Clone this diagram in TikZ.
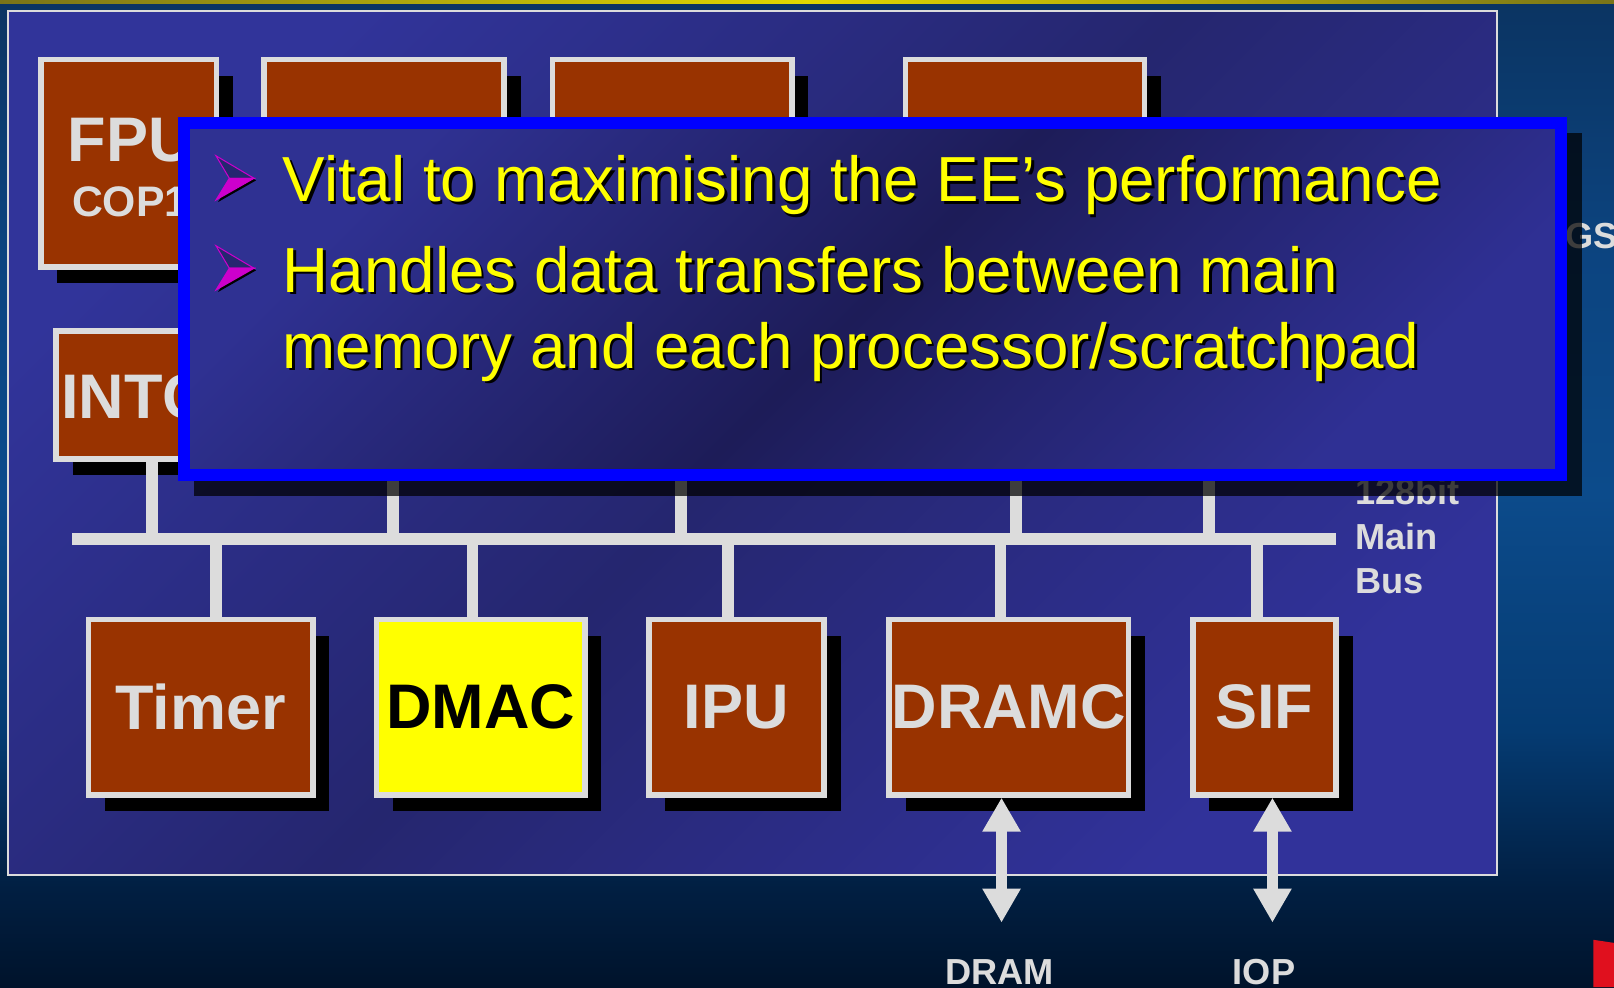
\documentclass[tikz,border=0pt]{standalone}
\usepackage{fontspec}
\setmainfont{Liberation Sans}
\usetikzlibrary{shadows,arrows.meta}

\definecolor{bgA}{HTML}{00132B}
\definecolor{bgB}{HTML}{011F42}
\definecolor{bgC}{HTML}{053B72}
\definecolor{bgD}{HTML}{0C4B8B}
\definecolor{bgE}{HTML}{0C4480}
\definecolor{bgF}{HTML}{0B3462}
\definecolor{frameTop}{HTML}{31349A}
\definecolor{frameMid}{HTML}{25266F}
\definecolor{frameBot}{HTML}{31329A}
\definecolor{popTop}{HTML}{2F3192}
\definecolor{popMid}{HTML}{1D1C58}
\definecolor{popBot}{HTML}{2F3094}
\definecolor{popBlue}{HTML}{0000FF}
\definecolor{boxFill}{HTML}{993300}
\definecolor{boxEdge}{HTML}{DCDCDC}
\definecolor{bulletPink}{HTML}{CC00CC}
\definecolor{bulletDark}{HTML}{262670}
\definecolor{cornerRed}{HTML}{E0101E}
\definecolor{topOlive}{HTML}{7A7418}
\definecolor{topYellow}{HTML}{E0D800}
\definecolor{noteYellow}{HTML}{FFFF00}

\pgfdeclareverticalshading{slideBg}{100bp}{color(0bp)=(bgA); color(25bp)=(bgA);
  color(30bp)=(bgB); color(38bp)=(bgC); color(50bp)=(bgD); color(62bp)=(bgE);
  color(75bp)=(bgF); color(100bp)=(bgF)}

\begin{document}
\begin{tikzpicture}
[x=0.01cm,y=-0.01cm,
  unitBox/.style={draw=boxEdge,line width=0.055cm,fill=boxFill,inner sep=0pt,%
    text=boxEdge,font=\fontsize{17.4}{20}\selectfont\bfseries,%
    drop shadow={shadow xshift=0.16cm,shadow yshift=-0.16cm,opacity=1,fill=black}},
  busLine/.style={draw=boxEdge,line width=0.115cm},
  ioArrow/.style={draw=boxEdge,fill=boxEdge,line width=0.1cm,%
    {Triangle[length=0.33cm,width=0.35cm]}-{Triangle[length=0.33cm,width=0.35cm]}},
  smallLabel/.style={text=boxEdge,font=\fontsize{10}{12}\selectfont\bfseries,inner sep=0pt},
  popText/.style={font=\fontsize{17.6}{21}\selectfont,inner sep=0pt,anchor=base west}]

\useasboundingbox (0,0) rectangle (1568,959);
%% slide background
\path[shading=slideBg] (0,0) rectangle (1568,959);
\shade[left color=topOlive,right color=topOlive,middle color=topYellow] (0,0) rectangle (1568,3);

%% the EE block
\node[draw=boxEdge,line width=0.02cm,minimum width=14.46cm,minimum height=8.39cm,%
  top color=frameTop,bottom color=frameBot,middle color=frameMid,shading angle=45]
  (eeFrame) at (731,430.5) {};

%% units on top (mostly hidden)
\foreach \nodename/\x/\y/\w/\h in {
  fpu/125/158.5/1.705/2.015, topB/373.3/158.5/2.331/2.015,
  topC/653/158.5/2.325/2.015, topD/995.8/158.5/2.321/2.015,
  intc/141/383.75/1.725/1.24}
{
  \node[unitBox,minimum width=\w cm,minimum height=\h cm] (\nodename) at (\x,\y) {};
}
\node[text=boxEdge,font=\fontsize{17.4}{20}\selectfont\bfseries,inner sep=0pt,anchor=base]
  (fpuName) at (127,157) {FPU};
\node[text=boxEdge,font=\fontsize{11.8}{14}\selectfont\bfseries,inner sep=0pt,anchor=base]
  (fpuSub) at (126.5,210.5) {COP1};
\node[text=boxEdge,font=\fontsize{17.4}{20}\selectfont\bfseries,inner sep=0pt,anchor=base west]
  (intcName) at (59,406.4) {INTC};

%% units below the bus
\foreach \nodename/\x/\w/\txt in {
  timer/195/2.178/Timer, ipu/715.5/1.704/IPU,
  dramc/980/2.325/DRAMC, sif/1228.4/1.393/SIF}
{
  \node[unitBox,minimum width=\w cm,minimum height=1.702cm] (\nodename) at (\x,687) {\txt};
}
\node[unitBox,fill=noteYellow,text=black,minimum width=2.023cm,minimum height=1.702cm]
  (dmac) at (466.9,687) {DMAC};

%% 128bit main bus
\coordinate (busW) at (70.3,523.5);
\coordinate (busE) at (1298,523.5);
\draw[busLine] (busW) -- (busE);
\foreach \startnode/\x/\endnode in {
  upIntc/148/intc, upB/381.4/topB, upC/661.2/topC, upD/987.3/topD, upE/1174.5/topD}
{
  \coordinate (\startnode) at (\x,523.5);
  \draw[busLine] (\startnode) -- (\startnode |- \endnode.south);
}
\foreach \startnode/\x/\endnode in {
  dnTimer/209.7/timer, dnDmac/459/dmac, dnIpu/707/ipu, dnDramc/972/dramc, dnSif/1220.8/sif}
{
  \coordinate (\startnode) at (\x,523.5);
  \draw[busLine] (\startnode) -- (\startnode |- \endnode.north);
}
\foreach \nodename/\y/\txt in {busA/490.4/128bit, busB/533.7/Main, busC/576.3/Bus}
{
  \node[smallLabel,anchor=base west] (\nodename) at (1316,\y) {\txt};
}
\node[smallLabel,anchor=base west] (gs) at (1520,241.2) {GS};

%% off-chip links
\coordinate (dramEnd) at (973,896.3);
\coordinate (iopEnd) at (1236.2,896.3);
\draw[ioArrow] (dramEnd |- dramc.south) -- (dramEnd);
\draw[ioArrow] (iopEnd |- sif.south) -- (iopEnd);
\node[smallLabel,anchor=base] (dram) at (971.2,956) {DRAM};
\node[smallLabel,anchor=base] (iop) at (1228,956) {IOP};
\fill[cornerRed] (1548,913) -- (1568,916) -- (1568,959) -- (1548,959) -- cycle;

%% pop-up note
\fill[black,opacity=0.72] (188.6,129) rectangle (1537,482);
\node[draw=popBlue,line width=0.115cm,minimum width=13.369cm,minimum height=3.415cm,%
  top color=popTop,bottom color=popBot,middle color=popMid,shading angle=45]
  (popup) at (847.8,290.5) {};
\foreach \yb in {0,87.4}
{
  \fill[black] (211.8,153.3+\yb) -- (248.8,175.2+\yb) -- (211.8,196.3+\yb) -- (224.8,175.2+\yb) -- cycle;
  \filldraw[fill=bulletDark,draw=bulletPink,line width=0.01cm]
    (209.8,151.3+\yb) -- (246.8,173.2+\yb) -- (222.8,173.2+\yb) -- cycle;
  \filldraw[fill=bulletPink,draw=bulletPink,line width=0.01cm]
    (209.8,194.3+\yb) -- (246.8,173.2+\yb) -- (222.8,173.2+\yb) -- cycle;
}
\foreach \nodename/\y/\txt in {
  vital/196/{Vital to maximising the EE’s performance},
  handles/284/{Handles data transfers between main},
  memory/357.6/{memory and each processor/scratchpad}}
{
  \node[popText,text=black] (\nodename Shade) at (276.5,\y+2.5) {\txt};
  \node[popText,text=noteYellow] (\nodename) at (274,\y) {\txt};
}
\end{tikzpicture}
\end{document}
